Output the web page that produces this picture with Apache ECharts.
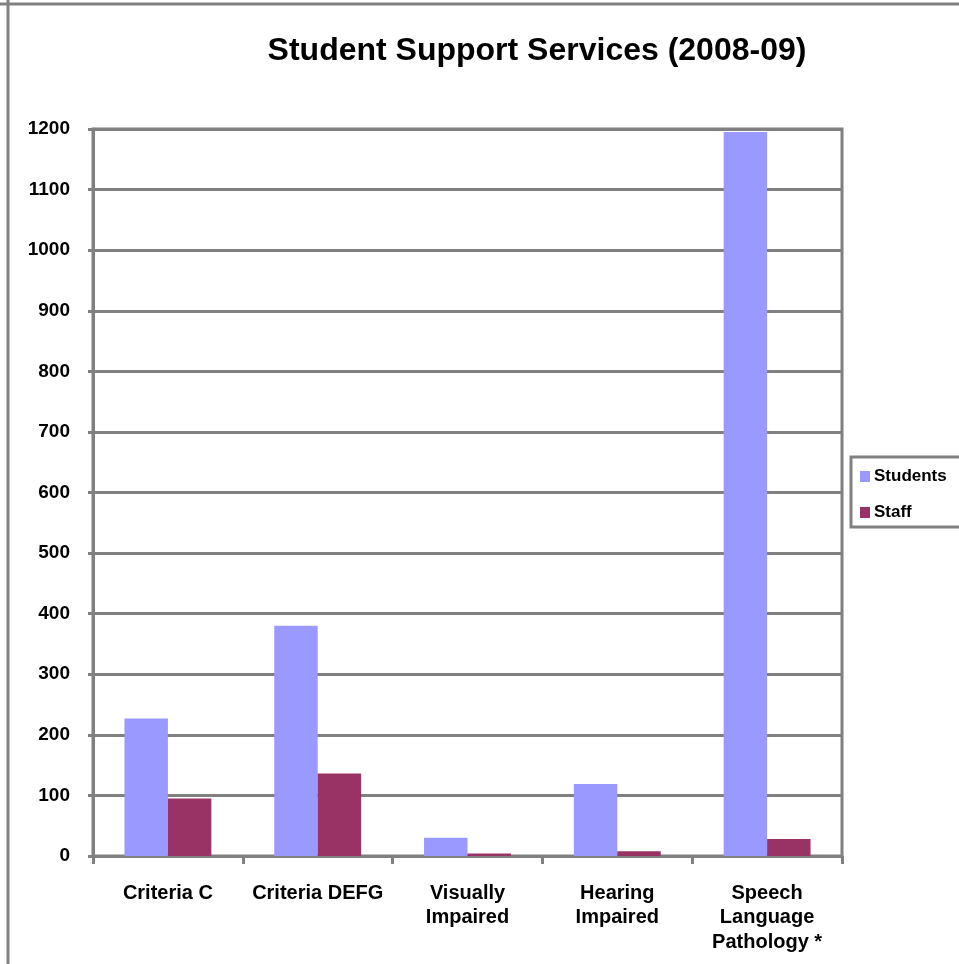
<!DOCTYPE html>
<html><head><meta charset="utf-8">
<script src="https://cdn.jsdelivr.net/npm/echarts@6/dist/echarts.min.js"></script>
<style>html,body{margin:0;padding:0;background:#fff}#c{width:959px;height:964px}</style>
</head><body><div id="c"></div>
<script>
const categories = ['Criteria C', 'Criteria DEFG', 'Visually\nImpaired', 'Hearing\nImpaired', 'Speech\nLanguage\nPathology *'];
const students = [227, 380, 30, 119, 1195];
const staff = [95, 136, 4, 8, 28];
const yTicks = [0, 100, 200, 300, 400, 500, 600, 700, 800, 900, 1000, 1100, 1200];

const chart = echarts.init(document.getElementById('c'));
const FONT = '"Liberation Sans", Arial, sans-serif';
const GRAY = '#808080';
chart.setOption({
  animation: false,
  backgroundColor: '#fff',
  title: {
    text: 'Student Support Services (2008-09)',
    left: 532, top: 30, textAlign: 'center',
    textStyle: {fontFamily: FONT, fontWeight: 'bold', fontSize: 32, color: '#000'}
  },
  graphic: [
    {type: 'line', shape: {x1: 8, y1: 0, x2: 8, y2: 964}, style: {stroke: GRAY, lineWidth: 3}},
    {type: 'line', shape: {x1: 0, y1: 4, x2: 959, y2: 4}, style: {stroke: GRAY, lineWidth: 3}}
  ],
  legend: {
    orient: 'vertical',
    left: 851, top: 457,
    padding: [11, 40, 6, 9],
    borderColor: GRAY, borderWidth: 3,
    itemWidth: 10, itemHeight: 11, itemGap: 19,
    icon: 'rect',
    textStyle: {fontFamily: FONT, fontWeight: 'bold', fontSize: 17, color: '#000', padding: [0, 0, 0, -1]},
    data: ['Students', 'Staff']
  },
  grid: {
    left: 93, right: 117, top: 129, bottom: 108,
    show: true, borderColor: GRAY, borderWidth: 3, backgroundColor: 'transparent'
  },
  xAxis: {
    type: 'category',
    data: categories,
    axisLine: {lineStyle: {color: GRAY, width: 3}},
    axisTick: {show: true, length: 8, lineStyle: {color: GRAY, width: 3}},
    axisLabel: {
      interval: 0, margin: 25, lineHeight: 24.5,
      fontFamily: FONT, fontWeight: 'bold', fontSize: 20, color: '#000'
    }
  },
  yAxis: {
    type: 'value',
    min: yTicks[0], max: yTicks[yTicks.length - 1], interval: 100,
    axisLine: {show: true, lineStyle: {color: GRAY, width: 3}},
    axisTick: {show: true, length: 5, lineStyle: {color: GRAY, width: 3}},
    splitLine: {show: true, lineStyle: {color: GRAY, width: 3}},
    axisLabel: {margin: 23, fontFamily: FONT, fontWeight: 'bold', fontSize: 19, color: '#000',
      formatter: v => String(v)}
  },
  series: [
    {name: 'Students', type: 'bar', data: students, barGap: '0%', barCategoryGap: '42%',
     itemStyle: {color: '#9999FF'}},
    {name: 'Staff', type: 'bar', data: staff, barGap: '0%', barCategoryGap: '42%',
     itemStyle: {color: '#993366'}}
  ]
});
</script></body></html>
